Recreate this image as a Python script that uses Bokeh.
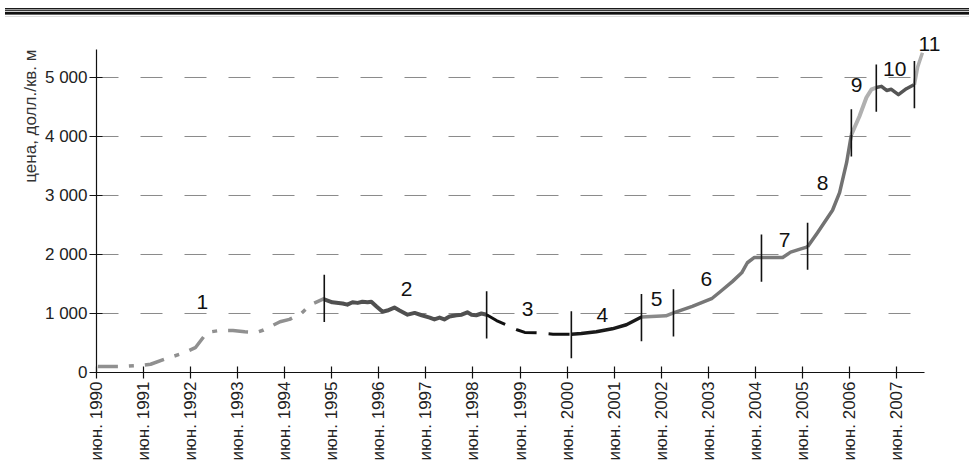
import math
from bokeh.plotting import figure
from bokeh.models import Range1d, FixedTicker, Title, Div
from bokeh.layouts import column
from bokeh.embed import file_html
from bokeh.resources import INLINE
from bokeh.core.properties import value

# ---------------- data ----------------
years = list(range(1990, 2008))
x_tick_labels = [f"июн. {y}" for y in years]
y_ticks = [0, 1000, 2000, 3000, 4000, 5000]
y_tick_labels = ["0", "1 000", "2 000", "3 000", "4 000", "5 000"]

s1_x = [1990.03, 1990.5, 1991.0, 1991.15, 1991.5, 1991.85, 1992.1, 1992.35, 1992.6, 1992.9,
        1993.15, 1993.4, 1993.55, 1993.75, 1993.9, 1994.1, 1994.35, 1994.55, 1994.86]
s1_y = [100, 100, 125, 140, 240, 330, 420, 680, 710, 710,
        690, 680, 720, 800, 860, 900, 1000, 1150, 1260]

s2_x = [1994.84, 1995.01, 1995.23, 1995.33, 1995.44, 1995.55, 1995.65, 1995.76, 1995.84, 1995.95,
        1996.08, 1996.18, 1996.33, 1996.44, 1996.61, 1996.76, 1996.91, 1997.08, 1997.18, 1997.29,
        1997.39, 1997.50, 1997.65, 1997.76, 1997.88, 1997.97, 1998.07, 1998.18, 1998.29]
s2_y = [1240, 1190, 1170, 1150, 1190, 1180, 1200, 1190, 1200, 1120,
        1030, 1050, 1100, 1050, 980, 1010, 970, 930, 900, 930,
        900, 950, 970, 980, 1020, 980, 970, 1000, 980]

s3_x = [1998.29, 1998.5, 1998.75, 1998.95, 1999.1, 1999.4, 1999.7, 2000.09]
s3_y = [980, 880, 790, 720, 680, 670, 650, 650]

s4_x = [2000.09, 2000.3, 2000.62, 2000.96, 2001.26, 2001.58]
s4_y = [650, 660, 690, 740, 810, 940]

s5_x = [2001.58, 2001.9, 2002.1, 2002.26]
s5_y = [940, 955, 960, 1010]

s6_x = [2002.26, 2002.66, 2003.07, 2003.24, 2003.51, 2003.71, 2003.83, 2003.98, 2004.13]
s6_y = [1010, 1120, 1250, 1360, 1540, 1690, 1860, 1950, 1950]

s7_x = [2004.13, 2004.58, 2004.75, 2004.95, 2005.11]
s7_y = [1950, 1950, 2040, 2090, 2130]

s8_x = [2005.11, 2005.32, 2005.64, 2005.79, 2005.94, 2006.04]
s8_y = [2130, 2370, 2750, 3050, 3560, 4030]

s9_x = [2006.04, 2006.21, 2006.36, 2006.47, 2006.57]
s9_y = [4030, 4340, 4660, 4800, 4830]

s10_x = [2006.57, 2006.68, 2006.79, 2006.89, 2007.04, 2007.21, 2007.38]
s10_y = [4830, 4850, 4780, 4800, 4710, 4810, 4880]

s11_x = [2007.38, 2007.45, 2007.55]
s11_y = [4880, 5180, 5420]

bound_x = [1994.84, 1998.29, 2000.09, 2001.58, 2002.26, 2004.13, 2005.11, 2006.04, 2006.57, 2007.38]
bound_y = [1255, 975, 640, 930, 1010, 1940, 2140, 4060, 4820, 4880]

lab_text = ["1", "2", "3", "4", "5", "6", "7", "8", "9", "10", "11"]
lab_x = [1992.25, 1996.59, 1999.16, 2000.75, 2001.9, 2002.96, 2004.62, 2005.43, 2006.15, 2006.96, 2007.70]
lab_y = [1190, 1410, 1070, 970, 1250, 1580, 2250, 3220, 4880, 5140, 5560]

# ---------------- figure ----------------
FONT = "Liberation Sans"
p = figure(width=964, height=444, output_backend="svg", toolbar_location=None,
           x_range=Range1d(1990, 2008.083), y_range=Range1d(0, 5898),
           min_border_left=96, min_border_right=17, min_border_top=5, min_border_bottom=89)
p.outline_line_color = None
p.xgrid.visible = False
p.ygrid.visible = False
p.background_fill_color = "white"
p.border_fill_color = "white"

# dashed horizontal grid lines from tick values
grid_vals = y_ticks[1:]
p.segment(x0=[1990] * len(grid_vals), y0=grid_vals, x1=[2007.52] * len(grid_vals), y1=grid_vals,
          line_color="#8a8a8a", line_width=1, line_dash="22 22")

styles = [
    (s1_x, s1_y, "#909090", 3.5, "20 11 5 11"),
    (s2_x, s2_y, "#505050", 4, "solid"),
    (s3_x, s3_y, "#111111", 3, "21 12"),
    (s4_x, s4_y, "#1a1a1a", 3.5, "solid"),
    (s5_x, s5_y, "#8a8a8a", 3.5, "solid"),
    (s6_x, s6_y, "#777777", 3.5, "solid"),
    (s7_x, s7_y, "#7a7a7a", 3.5, "solid"),
    (s8_x, s8_y, "#727272", 3.5, "solid"),
    (s9_x, s9_y, "#b0b0b0", 4, "solid"),
    (s10_x, s10_y, "#555555", 3.5, "solid"),
    (s11_x, s11_y, "#b0b0b0", 3.5, "solid"),
]
for xs, ys, col, w, dash in styles:
    p.line(xs, ys, line_color=col, line_width=w, line_dash=dash, line_join="round")

half = 400
p.segment(x0=bound_x, y0=[v - half for v in bound_y], x1=bound_x, y1=[v + half for v in bound_y],
          line_color="#111111", line_width=1.6)

p.text(x=lab_x, y=lab_y, text=lab_text, text_font=value(FONT), text_font_size="21px",
       text_align="center", text_baseline="middle", text_color="#111111")

# axes
p.xaxis.ticker = FixedTicker(ticks=years)
p.xaxis.major_label_overrides = {y: l for y, l in zip(years, x_tick_labels)}
p.xaxis.major_label_orientation = math.pi / 2
p.xaxis.bounds = (1990, 2007.6)
p.yaxis.ticker = FixedTicker(ticks=y_ticks)
p.yaxis.major_label_overrides = {t: l for t, l in zip(y_ticks, y_tick_labels)}
p.yaxis.bounds = (0, 5475)

for ax in (p.xaxis[0], p.yaxis[0]):
    ax.axis_line_color = "#111111"
    ax.axis_line_width = 1.2
    ax.major_tick_line_color = "#111111"
    ax.major_tick_line_width = 1.2
    ax.minor_tick_line_color = None
    ax.major_tick_in = 6
    ax.major_tick_out = 6
    ax.major_label_text_font = FONT
    ax.major_label_text_font_size = "17px"
    ax.major_label_text_color = "#222222"
p.xaxis.major_label_standoff = 3
p.yaxis.major_tick_out = 7
p.yaxis.major_label_standoff = 2

p.add_layout(Title(text="цена, долл./кв. м", align="right", text_font=FONT, text_font_size="17px",
                   text_font_style="normal", text_color="#333333", offset=25, standoff=4), "left")

W = 964
stripes = "".join(
    f'<div style="width:{W}px;height:{h}px;background:{c}"></div>'
    for h, c in [(1, "#1a1a1a"), (1, "#9a9a9a"), (1, "#3a3a3a"), (1, "#cfcfcf"),
                 (2, "#111111"), (1, "#666666"), (1, "#ffffff"), (1, "#dddddd")]
)
top = Div(text=stripes, width=W, height=9)

layout = column(top, p, spacing=0)
open("out.html", "w").write(file_html(layout, INLINE))
